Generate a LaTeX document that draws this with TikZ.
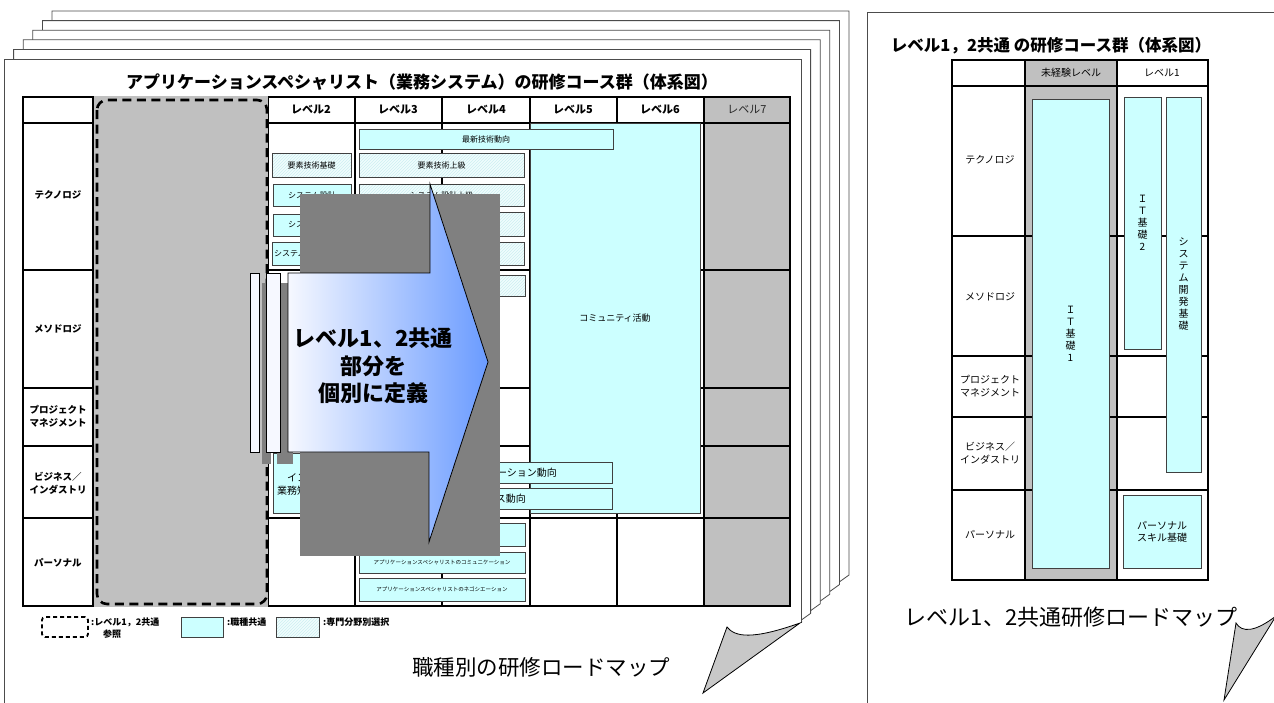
\documentclass[tikz,border=0pt]{standalone}
\usepackage{fontspec}
\setmainfont{Noto Sans CJK JP}
\usetikzlibrary{patterns}
\definecolor{cy}{HTML}{CCFFFF}
\definecolor{grc}{HTML}{C0C0C0}
\definecolor{dgc}{HTML}{808080}
\definecolor{hbg}{HTML}{F0FDFD}
\definecolor{hln}{HTML}{CDEFF2}
\definecolor{arb}{HTML}{6A9BFF}
\definecolor{arw}{HTML}{F6F8FF}
\definecolor{crl}{HTML}{C8C8C8}
\newcommand\fsz[2]{\fontsize{#1}{#2}\selectfont}
\newcommand\rn[6]{\node[#1,minimum width={#4-#2},minimum height={#5-#3}] (#6) at ({(#2+#4)/2},{(#3+#5)/2})}
\tikzset{
 pgb/.style={draw=black!70,fill=white,line width=0.8pt},
 pgl/.style={draw=black!70,line width=0.8pt},
 tl/.style={line width=2pt},
 cb/.style={draw=black!75,fill=cy,line width=0.9pt,inner sep=0pt,align=center},
 hbx/.style={draw=black!75,line width=0.9pt,inner sep=0pt,align=center,preaction={fill=hbg},pattern=north east lines,pattern color=hln},
 rl/.style={font=\bfseries\fsz{9.5}{13},align=center,inner sep=0pt},
 rr/.style={font=\fsz{10}{13},align=center,inner sep=0pt},
 hd/.style={font=\bfseries\fsz{11}{13},inner sep=0pt},
 tx/.style={inner sep=0pt},
 curl/.style={draw=black,fill=crl,line width=0.8pt},
}
\begin{document}
\begin{tikzpicture}[x=1pt,y=-1pt]
\useasboundingbox (0,0) rectangle (1274,702);
\clip (0,0) rectangle (1274,702);
% ---------- stacked pages (left)
\foreach \k in {5,4,3,2,1}{
  \pgfmathsetmacro\d{9.6*\k}
  \pgfmathsetmacro\ys{623-\d+(3+\d)*0.714}
  \filldraw[pgb] ({4+\d},{59-\d}) -- ({801+\d},{59-\d}) -- ({801+\d},{623-\d}) -- (798,\ys) -- ({4+\d},\ys) -- cycle;
}
\fill[white] (4,59) -- (801,59) -- (801,623) -- (703,693) -- (660,725) -- (4,725) -- cycle;
\draw[pgl] (4,725) -- (4,59) -- (801,59) -- (801,623);
\filldraw[curl] (727,627) .. controls (735,637) and (752,640) .. (800,623) -- (703,693) -- cycle;
% title
\node[tx,font=\bfseries\fsz{17}{20}] (ttl) at (422,82) {アプリケーションスペシャリスト（業務システム）の研修コース群（体系図）};
% ---------- table
\fill[grc] (704,97) rectangle (790,606);
\draw[tl] (23,97) rectangle (790,606);
\foreach \x in {93,268,355,442,530,617,704} \draw[tl] (\x,97) -- (\x,606);
\foreach \y in {123,270,388,446,518} \draw[tl] (23,\y) -- (790,\y);
\fill[grc] (94,96) rectangle (267.5,607);
\draw[line width=2.6pt,dash pattern=on 9pt off 5.5pt,rounded corners=10pt] (97,100) rectangle (267,604);
% headers
\node[hd] (h2) at (311,110) {レベル2};
\node[hd] (h3) at (398,110) {レベル3};
\node[hd] (h4) at (486,110) {レベル4};
\node[hd] (h5) at (573,110) {レベル5};
\node[hd] (h6) at (660,110) {レベル6};
\node[tx,font=\fsz{11}{13},text=black!85] (h7) at (747,110) {レベル7};
% row labels
\node[rl] (r1) at (58,195) {テクノロジ};
\node[rl] (r2) at (58,329) {メソドロジ};
\node[rl] (r3) at (58,416) {プロジェクト\\マネジメント};
\node[rl] (r4) at (58,483) {ビジネス／\\インダストリ};
\node[rl] (r5) at (58,563) {パーソナル};
% course boxes
\rn{cb}{530}{123}{700}{513}{comm} {\fsz{9}{10}コミュニティ活動};
\rn{cb}{359}{129}{613}{149}{b01} {\fsz{8}{9}最新技術動向};
\rn{hbx}{272}{153}{351}{177}{b02} {\fsz{8}{9}要素技術基礎};
\rn{hbx}{359}{153}{524}{177}{b03} {\fsz{8}{9}要素技術上級};
\rn{cb}{273}{184}{351}{206}{b04} {\fsz{8}{9}システム設計};
\rn{hbx}{359}{184}{524}{206}{b05} {\fsz{8}{9}システム設計上級};
\rn{cb}{273}{214}{351}{236}{b06} {};
\node[tx,anchor=west,font=\fsz{8}{9}] (t06) at (288,225) {シス};
\rn{hbx}{359}{212}{524}{236}{b07} {};
\rn{cb}{272}{242}{351}{265}{b08} {};
\node[tx,anchor=west,font=\fsz{8}{9}] (t08) at (274,253.5) {システム};
\rn{hbx}{359}{242}{524}{265}{b09} {};
\rn{hbx}{359}{275}{525}{296}{b10} {};
\rn{cb}{273}{453}{351}{513}{b11} {};
\node[tx,anchor=west,font=\fsz{10}{11}] (t11a) at (287,478) {イン};
\node[tx,anchor=west,font=\fsz{10}{11}] (t11b) at (277,491) {業務知};
\rn{cb}{359}{462}{612}{483}{b12} {};
\node[tx,anchor=east,font=\fsz{10}{11}] (t12) at (557,472.5) {ーション動向};
\rn{cb}{359}{488}{612}{509}{b13} {};
\node[tx,anchor=east,font=\fsz{10}{11}] (t13) at (526,498.5) {ス動向};
\rn{cb}{359}{523}{525}{546}{b14} {};
\rn{cb}{359}{552}{525}{573}{b15} {\fsz{5.5}{6}アプリケーションスペシャリストのコミュニケーション};
\rn{cb}{359}{578}{525}{601}{b16} {\fsz{5.5}{6}アプリケーションスペシャリストのネゴシエーション};
% ---------- big arrow
\fill[dgc] (300,194) rectangle (500,556);
\fill[dgc] (262,283) rectangle (271,464);
\fill[dgc] (277,283) rectangle (293,464);
\filldraw[fill=arw,draw=black,line width=0.7pt] (250,273) rectangle (259,452);
\filldraw[fill=arw,draw=black,line width=0.7pt] (266,273) rectangle (280,452);
\path[draw=black,line width=0.8pt,left color=arw,right color=arb]
  (288,273) -- (430,273) -- (430,184) -- (488,362) -- (429,542) -- (429,452) -- (288,452) -- cycle;
\node[tx,align=center,font=\bfseries\fsz{22}{27.5}] (atx) at (373,366) {レベル1、2共通\\部分を\\個別に定義};
% ---------- legend
\node[draw,line width=1.8pt,dash pattern=on 4pt off 3pt,rounded corners=3pt,minimum width=46,minimum height=20,inner sep=0pt] (lg1) at (65,627) {};
\node[tx,anchor=west,font=\bfseries\fsz{9}{10}] (lt1) at (91,622) {:レベル1，2共通};
\node[tx,font=\bfseries\fsz{9}{10}] (lt1b) at (112,634) {参照};
\rn{cb}{181}{617}{223}{637}{lg2} {};
\node[tx,anchor=west,font=\bfseries\fsz{9}{10}] (lt2) at (227,622) {:職種共通};
\rn{hbx}{276}{617}{319}{637}{lg3} {};
\node[tx,anchor=west,font=\bfseries\fsz{9}{10}] (lt3) at (323,622) {:専門分野別選択};
\node[tx,font=\fsz{21.5}{24}] (cap1) at (541,667) {職種別の研修ロードマップ};
% ---------- right page
\fill[white] (867,12) rectangle (1290,720);
\draw[pgl] (867,720) -- (867,12) -- (1290,12);
\node[tx,font=\bfseries\fsz{16.5}{19}] (ttl2) at (1051,46) {レベル1，2共通 の研修コース群（体系図）};
\fill[grc] (1025,60) rectangle (1117,580);
\draw[tl] (952,60) rectangle (1208,580);
\foreach \x in {1025,1117} \draw[tl] (\x,60) -- (\x,580);
\foreach \y in {86,236,356,417,490} \draw[tl] (952,\y) -- (1208,\y);
\node[tx,font=\fsz{10}{12}] (rh1) at (1071,73) {未経験レベル};
\node[tx,font=\fsz{10}{12}] (rh2) at (1162,73) {レベル1};
\node[rr] (rr1) at (990,160) {テクノロジ};
\node[rr] (rr2) at (990,297) {メソドロジ};
\node[rr] (rr3) at (990,386) {プロジェクト\\マネジメント};
\node[rr] (rr4) at (990,453) {ビジネス／\\インダストリ};
\node[rr] (rr5) at (990,535) {パーソナル};
\rn{cb}{1032}{99}{1109}{568}{it1} {\fsz{10}{12.5}Ｉ\\Ｔ\\基\\礎\\1};
\rn{cb}{1124}{97}{1161}{349}{it2} {\fsz{10}{12.5}Ｉ\\Ｔ\\基\\礎\\2};
\rn{cb}{1166}{97}{1201}{472}{sys} {\fsz{10}{13}シ\\ス\\テ\\ム\\開\\発\\基\\礎};
\rn{cb}{1123}{495}{1201}{568}{psk} {\fsz{10}{13}パーソナル\\スキル基礎};
\node[tx,font=\fsz{22}{24}] (cap2) at (1071,617) {レベル1、2共通研修ロードマップ};
\filldraw[curl] (1236,623) .. controls (1242,633) and (1255,632) .. (1276,616) -- (1224,700) -- cycle;
\end{tikzpicture}
\end{document}
